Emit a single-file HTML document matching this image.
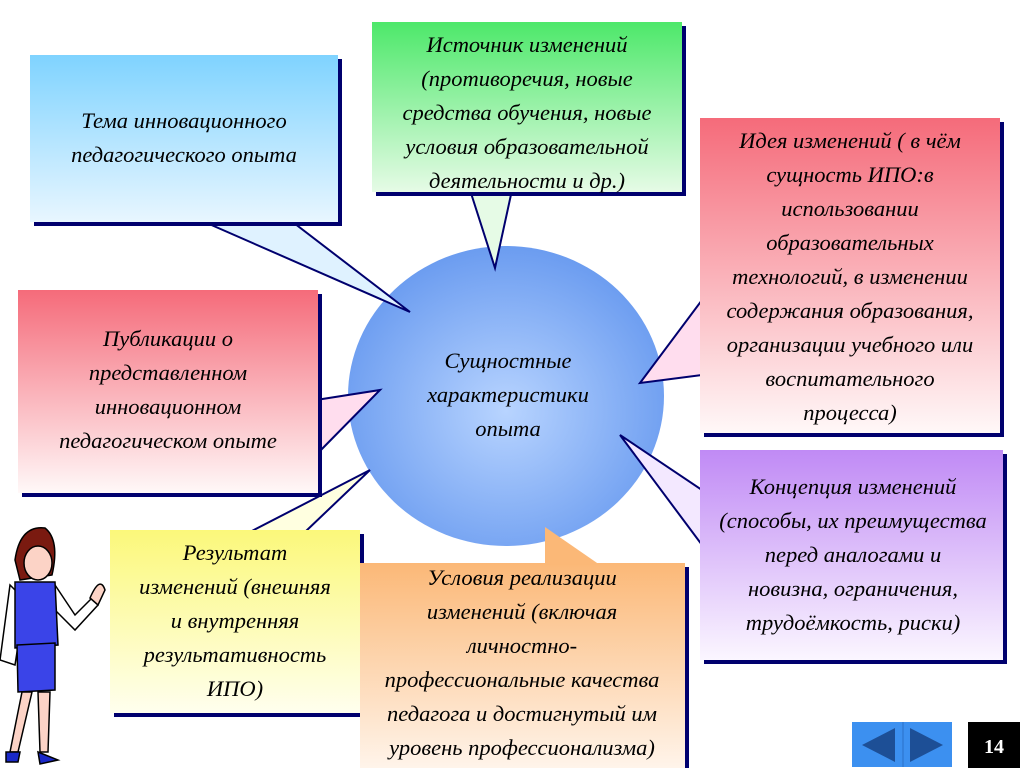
<!DOCTYPE html>
<html><head><meta charset="utf-8"><style>
body{margin:0;background:#fff;width:1024px;height:768px;overflow:hidden}
svg text{font-family:"Liberation Serif",serif;font-style:italic;font-size:22.5px;fill:#000;text-anchor:middle}
</style></head><body>
<svg width="1024" height="768" viewBox="0 0 1024 768">
<defs>
<linearGradient id="gb" x1="0" y1="0" x2="0" y2="1"><stop offset="0" stop-color="#7fd3ff"/><stop offset="1" stop-color="#e8f6ff"/></linearGradient>
<linearGradient id="gg" x1="0" y1="0" x2="0" y2="1"><stop offset="0" stop-color="#4de86a"/><stop offset="1" stop-color="#e6fbe6"/></linearGradient>
<linearGradient id="gr" x1="0" y1="0" x2="0" y2="1"><stop offset="0" stop-color="#f56b7a"/><stop offset="1" stop-color="#fff8f8"/></linearGradient>
<linearGradient id="gp" x1="0" y1="0" x2="0" y2="1"><stop offset="0" stop-color="#c08af5"/><stop offset="1" stop-color="#fbf6ff"/></linearGradient>
<linearGradient id="gy" x1="0" y1="0" x2="0" y2="1"><stop offset="0" stop-color="#fbf87a"/><stop offset="1" stop-color="#ffffee"/></linearGradient>
<linearGradient id="go" x1="0" y1="0" x2="0" y2="1"><stop offset="0" stop-color="#fbb877"/><stop offset="1" stop-color="#fff4ea"/></linearGradient>
<radialGradient id="gc" cx="0.5" cy="0.55" r="0.55"><stop offset="0" stop-color="#b8d4ff"/><stop offset="1" stop-color="#6b9cf0"/></radialGradient>
</defs>
<ellipse cx="506" cy="396" rx="158" ry="150" fill="url(#gc)"/>
<polygon points="200,220 290,220 410,312" fill="#dff2ff" stroke="#00006e" stroke-width="2"/>
<polygon points="470,190 512,190 495,268" fill="#e6fbe6" stroke="#00006e" stroke-width="2"/>
<polygon points="702,300 702,375 640,383" fill="#fde" stroke="#00006e" stroke-width="2"/>
<polygon points="316,400 316,455 380,390" fill="#fde" stroke="#00006e" stroke-width="2"/>
<polygon points="702,490 702,545 620,435" fill="#f3e8ff" stroke="#00006e" stroke-width="2"/>
<polygon points="250,532 305,532 370,470" fill="#ffffe0" stroke="#00006e" stroke-width="2"/>
<g stroke="none">
<rect x="34" y="59" width="308" height="167" fill="#00006e"/><rect x="30" y="55" width="308" height="167" fill="url(#gb)"/>
<rect x="376" y="26" width="310" height="170" fill="#00006e"/><rect x="372" y="22" width="310" height="170" fill="url(#gg)"/>
<rect x="704" y="122" width="300" height="315" fill="#00006e"/><rect x="700" y="118" width="300" height="315" fill="url(#gr)"/>
<rect x="22" y="294" width="300" height="203" fill="#00006e"/><rect x="18" y="290" width="300" height="203" fill="url(#gr)"/>
<rect x="704" y="454" width="303" height="210" fill="#00006e"/><rect x="700" y="450" width="303" height="210" fill="url(#gp)"/>
<rect x="114" y="534" width="250" height="183" fill="#00006e"/><rect x="110" y="530" width="250" height="183" fill="url(#gy)"/>
<rect x="364" y="567" width="325" height="205" fill="#00006e"/><rect x="360" y="563" width="325" height="205" fill="url(#go)"/>
</g>
<polygon points="545,565 600,565 545,527" fill="#fbb877"/>
<text x="184" y="128">Тема инновационного</text><text x="184" y="162">педагогического опыта</text>
<text x="527" y="52">Источник изменений</text><text x="527" y="86">(противоречия, новые</text><text x="527" y="120">средства обучения, новые</text><text x="527" y="154">условия образовательной</text><text x="527" y="188">деятельности и др.)</text>
<text x="850" y="148">Идея изменений ( в чём</text><text x="850" y="182">сущность ИПО:в</text><text x="850" y="216">использовании</text><text x="850" y="250">образовательных</text><text x="850" y="284">технологий, в изменении</text><text x="850" y="318">содержания образования,</text><text x="850" y="352">организации учебного или</text><text x="850" y="386">воспитательного</text><text x="850" y="420">процесса)</text>
<text x="168" y="346">Публикации о</text><text x="168" y="380">представленном</text><text x="168" y="414">инновационном</text><text x="168" y="448">педагогическом опыте</text>
<text x="508" y="368">Сущностные</text><text x="508" y="402">характеристики</text><text x="508" y="436">опыта</text>
<text x="853" y="494">Концепция изменений</text><text x="853" y="528">(способы, их преимущества</text><text x="853" y="562">перед аналогами и</text><text x="853" y="596">новизна, ограничения,</text><text x="853" y="630">трудоёмкость, риски)</text>
<text x="235" y="560">Результат</text><text x="235" y="594">изменений (внешняя</text><text x="235" y="628">и внутренняя</text><text x="235" y="662">результативность</text><text x="235" y="696">ИПО)</text>
<text x="522" y="585">Условия реализации</text><text x="522" y="619">изменений (включая</text><text x="522" y="653">личностно-</text><text x="522" y="687">профессиональные качества</text><text x="522" y="721">педагога и достигнутый им</text><text x="522" y="755">уровень профессионализма)</text>
<g stroke="#000" stroke-width="1.5">
<path d="M15,560 Q20,525 45,528 Q60,540 52,575 L20,580 Z" fill="#7a1a10"/>
<ellipse cx="38" cy="563" rx="14" ry="17" fill="#fcd3c6"/>
<path d="M10,585 L0,660 L15,665 L25,600 Z" fill="#fff"/>
<path d="M55,585 L75,615 L95,595 L98,605 L75,630 L55,610 Z" fill="#fff"/>
<path d="M90,598 Q100,575 105,590 L98,605 Z" fill="#fcd3c6"/>
<path d="M15,582 L55,582 L58,645 L15,648 Z" fill="#3a44e8"/>
<path d="M17,645 L55,643 L55,690 L18,692 Z" fill="#3a44e8"/>
<path d="M22,692 L10,752 L18,752 L32,692 Z M38,692 L40,752 L48,752 L50,692 Z" fill="#fcd3c6"/>
<path d="M6,752 L20,752 L18,762 L6,762 Z M38,752 L58,760 L40,764 Z" fill="#1a28c8"/>
</g>
<rect x="852" y="722" width="100" height="45" fill="#3c90f0"/>
<line x1="903" y1="722" x2="903" y2="767" stroke="#2a70c8"/>
<polygon points="895,728 895,762 862,745" fill="#1d4f96"/>
<polygon points="910,728 910,762 943,745" fill="#1d4f96"/>
<rect x="968" y="722" width="52" height="46" fill="#000"/>
<text x="994" y="753" style="fill:#fff;font-style:normal;font-weight:bold;font-size:20px">14</text>
</svg>
</body></html>
